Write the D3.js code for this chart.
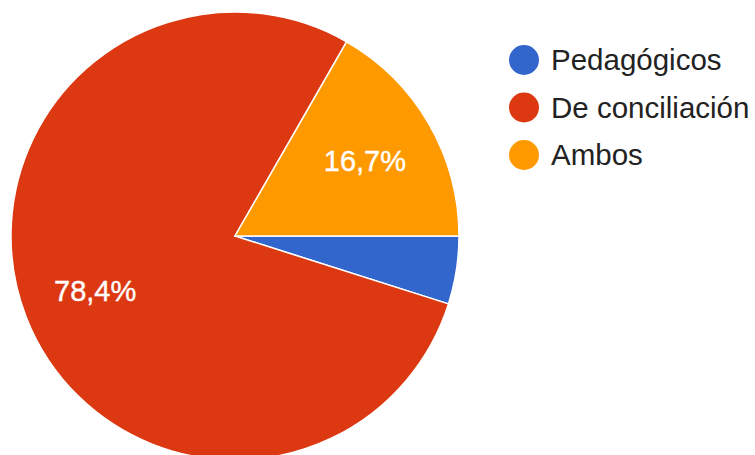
<!DOCTYPE html>
<html><head><meta charset="utf-8">
<script src="https://cdn.jsdelivr.net/npm/d3@7"></script>
<style>body{margin:0;background:#fff}svg{display:block}</style>
</head><body>
<svg id="c" width="755" height="455"></svg>
<script>
const categories = ["Pedagógicos", "De conciliación", "Ambos"];
const values = [4.9, 78.4, 16.7];
const labels = ["", "78,4%", "16,7%"];
const colors = ["#3366cc", "#dc3912", "#ff9900"];

const svg = d3.select("#c");
const cx = 235, cy = 236, r = 224;
const font = "'Liberation Sans', Arial, sans-serif";

const data = categories.map((c, i) => ({cat: c, value: values[i], label: labels[i], color: colors[i]}));
const pie = d3.pie().value(d => d.value).sort(null).startAngle(Math.PI / 2).endAngle(Math.PI / 2 + 2 * Math.PI);
const arcs = pie(data);
const arc = d3.arc().innerRadius(0).outerRadius(r);
const labelArc = d3.arc().innerRadius(r * 0.67).outerRadius(r * 0.67);

const g = svg.append("g").attr("transform", `translate(${cx},${cy})`);
g.selectAll("path").data(arcs).join("path")
  .attr("d", arc).attr("fill", d => d.data.color)
  .attr("stroke", "#fff").attr("stroke-width", 1.5);

g.selectAll("text").data(arcs.filter(d => d.data.label)).join("text")
  .attr("transform", d => `translate(${labelArc.centroid(d)})`)
  .attr("text-anchor", "middle").attr("dy", "0.36em")
  .attr("fill", "#fff").attr("font-family", font).attr("font-size", 29)
  .attr("stroke", "#fff").attr("stroke-width", 0.4)
  .text(d => d.data.label);

const leg = svg.append("g");
const ly = d3.scalePoint().domain(categories).range([60, 155]);
leg.selectAll("circle").data(data).join("circle")
  .attr("cx", 524).attr("cy", d => ly(d.cat)).attr("r", 15).attr("fill", d => d.color);
leg.selectAll("text").data(data).join("text")
  .attr("x", 551).attr("y", d => ly(d.cat) + 10)
  .attr("fill", "#222").attr("font-family", font).attr("font-size", 29.5)
  .text(d => d.cat);
</script>
</body></html>
